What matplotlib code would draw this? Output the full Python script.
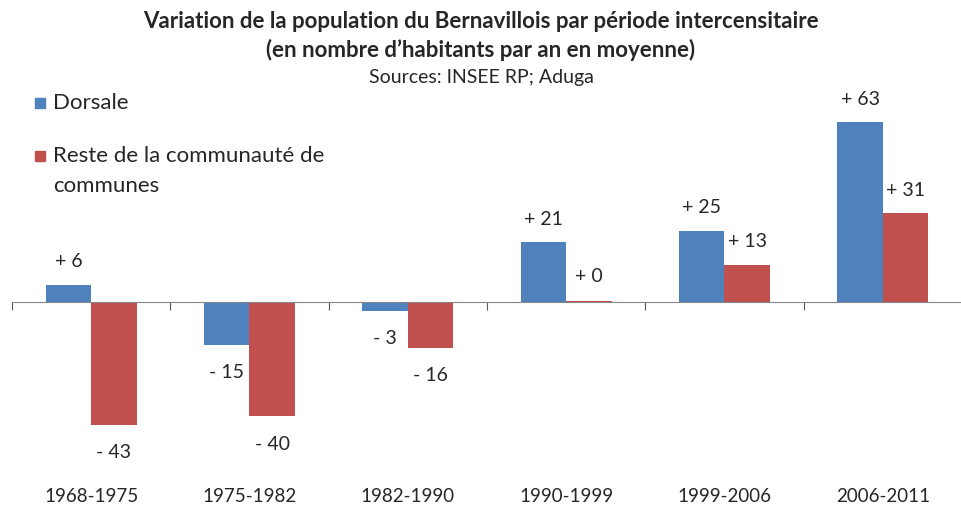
import matplotlib
matplotlib.use("Agg")
import numpy as np
import matplotlib.pyplot as plt
from matplotlib.patches import Rectangle
from matplotlib.transforms import blended_transform_factory

# Data
periods = ['1968-1975', '1975-1982', '1982-1990', '1990-1999', '1999-2006', '2006-2011']
dorsale = [6, -15, -3, 21, 25, 63]
reste = [-43, -40, -16, 0.35, 13, 31]

blue = '#4F81BD'
red = '#C0504D'
txt = '#262626'
plt.rcParams['font.family'] = ['Lato', 'DejaVu Sans']

fig = plt.figure(figsize=(9.62, 5.15), dpi=100)
ax = fig.add_axes([12 / 962, 45 / 515, 950 / 962, 410 / 515])

x = np.arange(len(periods))
w = 0.2875
ax.bar(x - w / 2, dorsale, w, color=blue)
ax.bar(x + w / 2, reste, w, color=red)

ax.set_xlim(-0.5, 5.4375)
ax.set_ylim(-58.8, 84.7)

# zero axis with tick marks between categories
for s in ['top', 'right', 'left']:
    ax.spines[s].set_visible(False)
ax.spines['bottom'].set_position(('data', 0))
ax.spines['bottom'].set_color('#868686')
ax.set_xticks(np.arange(-0.5, 5.6, 1.0))
ax.set_xticklabels([])
ax.tick_params(axis='x', length=6, color='#555555', direction='out')
ax.set_yticks([])

# value labels
def fmt(v):
    v = round(v)
    return ('- %d' % abs(v)) if v < 0 else ('+ %d' % v)

for xs, vals in [(x - w / 2, dorsale), (x + w / 2, reste)]:
    for xi, v in zip(xs, vals):
        off = 16.5 if v >= 1 else (18 if v >= 0 else -20)
        ax.annotate(fmt(v), (xi, v), xytext=(0, off), textcoords='offset points',
                    ha='center', va='center', fontsize=14, color=txt)

# category labels
trans = blended_transform_factory(ax.transData, fig.transFigure)
for xi, p in zip(x, periods):
    ax.text(xi, 1 - 497 / 515, p, transform=trans,
            ha='center', va='center', fontsize=13.5, color=txt)

# titles
fig.text(0.5, 1 - 22 / 515, 'Variation de la population du Bernavillois par période intercensitaire',
         ha='center', va='center', fontsize=16, fontweight='bold', color=txt)
fig.text(0.5, 1 - 50 / 515, '(en nombre d\u2019habitants par an en moyenne)',
         ha='center', va='center', fontsize=16, fontweight='bold', color=txt)
fig.text(0.5, 1 - 77 / 515, 'Sources: INSEE RP; Aduga',
         ha='center', va='center', fontsize=14, color=txt)

# legend
for yc, col, lines in [(103, blue, ['Dorsale']),
                       (156, red, ['Reste de la communauté de', 'communes'])]:
    fig.patches.append(Rectangle((35 / 962, 1 - (yc + 5) / 515), 10 / 962, 10 / 515,
                                 transform=fig.transFigure, color=col))
    for i, t in enumerate(lines):
        fig.text(53 / 962, 1 - (yc + 30 * i) / 515, t, ha='left', va='center',
                 fontsize=16, color=txt)

fig.savefig('out.png', dpi=100)
